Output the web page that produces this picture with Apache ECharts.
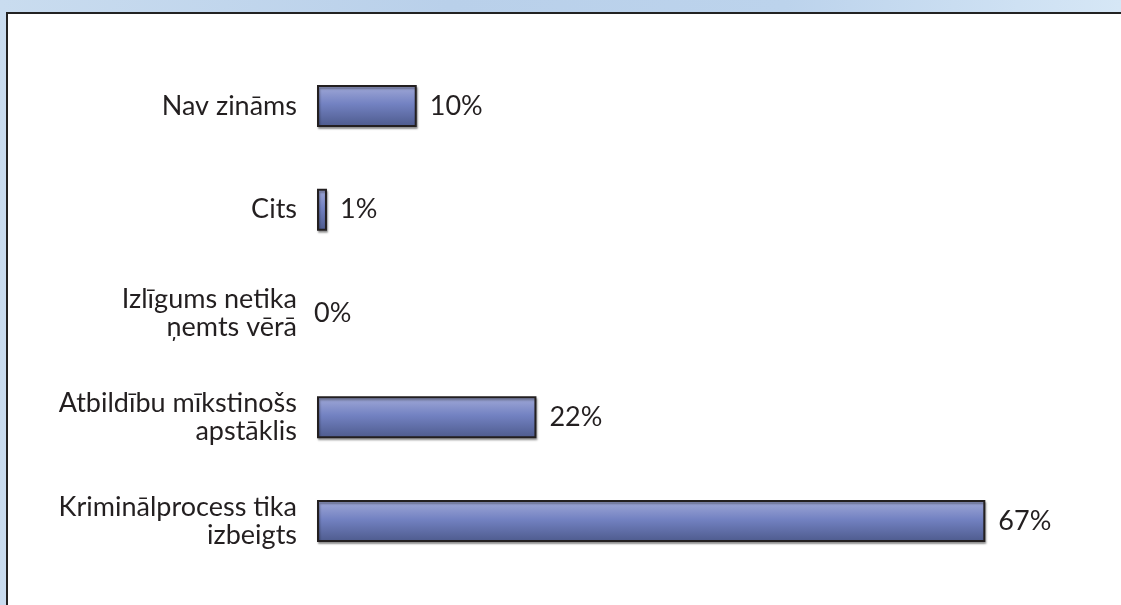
<!DOCTYPE html>
<html>
<head>
<meta charset="utf-8">
<script src="https://cdn.jsdelivr.net/npm/echarts@6/dist/echarts.min.js"></script>
<style>
  html, body { margin: 0; padding: 0; width: 1121px; height: 605px; overflow: hidden;
    background: linear-gradient(90deg, #c9dcef 0%, #b9d0ea 40%, #bcd3ec 70%, #d6e7f6 100%); }
  #frame { position: absolute; left: 6px; top: 12px; width: 1130px; height: 610px;
    background: #ffffff; border-left: 2px solid #222; border-top: 2px solid #222; }
  #chart { position: absolute; left: 0; top: 0; width: 1121px; height: 605px; }
</style>
</head>
<body>
<div id="frame"></div>
<div id="chart"></div>
<script>
// Categories listed bottom-to-top (ECharts category y-axis order)
const categories = [
  "Kriminālprocess tika\nizbeigts",
  "Atbildību mīkstinošs\napstāklis",
  "Izlīgums netika\nņemts vērā",
  "Cits",
  "Nav zināms"
];
const values = [67, 22, 0, 1, 10];

const chart = echarts.init(document.getElementById('chart'), null, { renderer: 'canvas' });

const barGradient = new echarts.graphic.LinearGradient(0, 0, 0, 1, [
  { offset: 0, color: '#a2aad8' },
  { offset: 0.45, color: '#7382c2' },
  { offset: 1, color: '#4d5a8c' }
]);

const seriesData = values.map(function (v) {
  const item = { value: v };
  if (v === 0) {
    item.itemStyle = { borderWidth: 0, shadowColor: 'rgba(0,0,0,0)' };
    item.label = { offset: [-16, 0] };
  }
  return item;
});

const fontFam = 'Lato, "Open Sans", sans-serif';

chart.setOption({
  backgroundColor: 'transparent',
  animation: false,
  grid: { left: 317, right: 6, top: 54, bottom: 32, containLabel: false },
  xAxis: {
    type: 'value', min: 0, max: 80,
    show: false
  },
  yAxis: {
    type: 'category',
    data: categories,
    axisLine: { show: false },
    axisTick: { show: false },
    axisLabel: {
      fontFamily: fontFam,
      fontSize: 27,
      color: '#231f20',
      margin: 20,
      align: 'right',
      lineHeight: 28
    }
  },
  series: [{
    type: 'bar',
    data: seriesData,
    barWidth: 42,
    itemStyle: {
      color: barGradient,
      borderColor: '#231f20',
      borderWidth: 2,
      shadowColor: 'rgba(0,0,0,0.35)',
      shadowBlur: 2,
      shadowOffsetX: 1,
      shadowOffsetY: 2
    },
    label: {
      show: true,
      position: 'right',
      distance: 13,
      formatter: '{c}%',
      fontFamily: fontFam,
      fontSize: 27,
      color: '#231f20'
    }
  }]
});
</script>
</body>
</html>
